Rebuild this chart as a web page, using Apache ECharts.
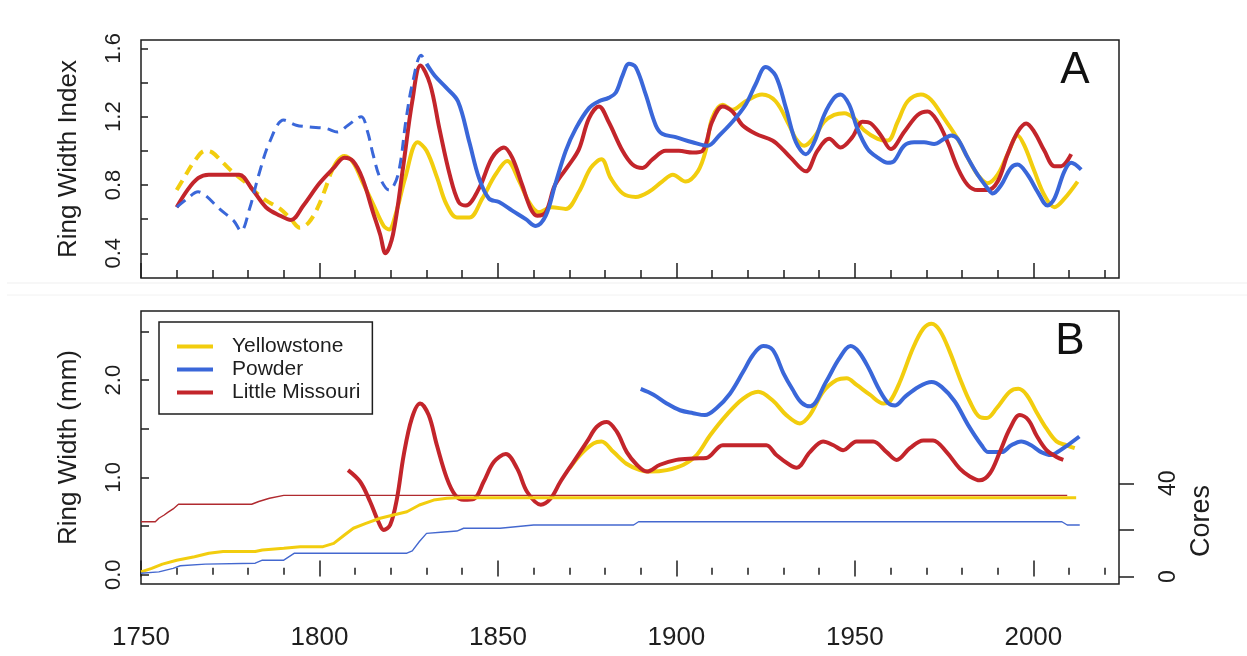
<!DOCTYPE html>
<html>
<head>
<meta charset="utf-8">
<title>Ring width chronologies</title>
<script src="https://cdn.jsdelivr.net/npm/echarts@6/dist/echarts.min.js"></script>
<style>
  html, body { margin: 0; padding: 0; background: #ffffff; }
  #chart { width: 1247px; height: 656px; }
</style>
</head>
<body>
<div id="chart"></div>
<script>
// ---- Panel A: standardized ring width index, [year, index] ----
const yellowstoneIndex = [
  [1760,0.77],[1762,0.84],[1765,0.94],[1768,1.0],[1770,0.99],[1773,0.93],[1776,0.87],[1779,0.82],
  [1782,0.76],[1785,0.71],[1789,0.66],[1792,0.6],[1794.5,0.55],[1797,0.58],[1800,0.69],[1803,0.86],
  [1805,0.94],[1807,0.97],[1809.5,0.93],[1812,0.82],[1815,0.69],[1818,0.56],[1819.5,0.54],[1821.5,0.64],
  [1824,0.84],[1827.5,1.05],[1830,1.0],[1833,0.84],[1835.5,0.69],[1838.5,0.61],[1842,0.61],[1845.6,0.72],
  [1849.3,0.86],[1852.6,0.94],[1856,0.82],[1858.7,0.70],[1861.5,0.64],[1865,0.67],[1869,0.66],[1872.7,0.76],
  [1876,0.90],[1879,0.95],[1881.6,0.84],[1885,0.75],[1888.6,0.73],[1892.3,0.76],[1896,0.82],[1899,0.86],
  [1902.6,0.82],[1906,0.88],[1908.2,1.0],[1910,1.19],[1913,1.27],[1915.7,1.24],[1919.4,1.29],[1924,1.33],
  [1927.8,1.29],[1931.6,1.15],[1933.5,1.07],[1935.8,1.03],[1938.6,1.08],[1941.4,1.17],[1944.2,1.21],[1947,1.22],
  [1949.8,1.19],[1952.6,1.12],[1956.4,1.07],[1959.2,1.06],[1962,1.17],[1964.8,1.29],[1968.5,1.33],[1971.3,1.30],
  [1975,1.19],[1978.8,1.07],[1981.6,0.96],[1984.4,0.86],[1987.2,0.81],[1990,0.86],[1992.8,0.98],[1995.6,1.09],
  [1997.5,1.03],[2000.3,0.88],[2003.1,0.74],[2005.9,0.67],[2008.7,0.72],[2012.4,0.82]
];
const powderIndex = [
  [1760,0.67],[1763,0.72],[1766,0.76],[1768,0.74],[1772,0.66],[1776,0.59],[1778,0.53],[1780.4,0.66],
  [1783,0.86],[1786,1.05],[1790,1.18],[1793.5,1.15],[1797,1.14],[1802,1.13],[1805,1.11],[1808,1.15],
  [1811.7,1.2],[1813.5,1.11],[1815,0.98],[1817,0.84],[1819.5,0.77],[1822,0.86],[1824.3,1.19],[1826,1.39],
  [1828.5,1.56],[1830,1.51],[1832.3,1.44],[1835.5,1.37],[1838.8,1.29],[1842,1.05],[1844.7,0.84],[1847.5,0.72],
  [1850.3,0.70],[1854,0.65],[1857.8,0.6],[1860.6,0.56],[1863.4,0.62],[1866,0.80],[1869,1.0],[1871.8,1.13],
  [1875.5,1.25],[1878.3,1.29],[1881,1.31],[1883,1.34],[1884.9,1.44],[1886.7,1.51],[1888.6,1.49],[1891.4,1.33],
  [1894.2,1.15],[1896,1.10],[1899.8,1.08],[1904.5,1.05],[1908.7,1.03],[1912,1.09],[1915.7,1.17],[1919.4,1.27],
  [1922.2,1.39],[1925,1.49],[1927.8,1.44],[1930.7,1.25],[1933.5,1.05],[1936.3,0.98],[1938.6,1.05],[1941.4,1.21],
  [1944.2,1.31],[1946,1.33],[1948.4,1.27],[1950.7,1.13],[1953.6,1.01],[1956.4,0.96],[1959.2,0.93],[1961,0.94],
  [1963.8,1.03],[1966.6,1.05],[1969.4,1.05],[1972.2,1.04],[1975,1.07],[1977,1.09],[1978.8,1.07],[1981.6,0.96],
  [1984.4,0.86],[1987.2,0.78],[1988.6,0.75],[1991,0.80],[1993.7,0.90],[1995.6,0.92],[1998.4,0.86],[2001.2,0.76],
  [2004,0.68],[2005.9,0.72],[2008.7,0.88],[2010.6,0.93],[2013.4,0.89]
];
const littleMissouriIndex = [
  [1760,0.67],[1763,0.77],[1766,0.84],[1769,0.86],[1773,0.86],[1777.5,0.86],[1781,0.78],[1785,0.67],
  [1789,0.62],[1792,0.595],[1795.5,0.68],[1800,0.81],[1804,0.9],[1807,0.96],[1809.4,0.94],[1812,0.84],
  [1815,0.64],[1817,0.51],[1818.5,0.40],[1820.6,0.51],[1823.4,0.9],[1826,1.29],[1828.3,1.5],[1831,1.39],
  [1833.6,1.13],[1836.5,0.86],[1839,0.70],[1841,0.68],[1844.7,0.78],[1848.4,0.96],[1851.7,1.02],[1854,0.96],
  [1856.8,0.80],[1859.2,0.66],[1861,0.62],[1863.4,0.64],[1866,0.8],[1870,0.92],[1872.7,1.01],[1875.5,1.19],
  [1878.3,1.26],[1881,1.17],[1884.9,1.0],[1887.7,0.92],[1890.5,0.90],[1893.3,0.95],[1897,1.0],[1900.7,1.0],
  [1904.5,0.99],[1907.3,1.0],[1910,1.17],[1912.9,1.26],[1915.7,1.23],[1918.5,1.15],[1922.2,1.10],[1926.9,1.06],
  [1929.7,1.01],[1932,0.96],[1936.3,0.88],[1939.5,1.0],[1942.8,1.07],[1946,1.02],[1949.3,1.08],[1952.1,1.17],
  [1954.5,1.16],[1957.3,1.09],[1960.1,1.01],[1963.8,1.11],[1967.6,1.21],[1970.4,1.23],[1973.2,1.17],[1976,1.05],
  [1978.8,0.90],[1981.6,0.80],[1984.4,0.77],[1987.2,0.77],[1990,0.82],[1992.8,0.98],[1995.6,1.11],[1998,1.16],
  [2000.3,1.11],[2003.1,1.0],[2005.9,0.91],[2007.8,0.91],[2010.6,0.98]
];
// years before which the index rests on few samples (drawn dashed)
const dashedUntil = { Yellowstone: 1803, Powder: 1830 };

// ---- Panel B: raw ring width (mm), [year, mm] ----
const yellowstoneWidth = [
  [1870,1.09],[1873,1.23],[1876.8,1.35],[1879,1.37],[1882.4,1.26],[1886,1.14],[1889.8,1.075],[1892.6,1.06],
  [1897.3,1.075],[1902,1.13],[1905.7,1.23],[1909.4,1.43],[1914,1.64],[1918.7,1.81],[1922.9,1.88],[1927,1.79],
  [1930.8,1.64],[1934.6,1.555],[1937.4,1.64],[1941.1,1.88],[1944.9,2.0],[1947.7,2.02],[1950.5,1.95],[1954.2,1.85],
  [1958,1.76],[1959.8,1.78],[1962.6,1.98],[1966.3,2.33],[1969.2,2.53],[1971.5,2.58],[1973.8,2.51],[1976.6,2.29],
  [1979.4,2.02],[1982.2,1.78],[1985,1.62],[1987,1.61],[1989.7,1.71],[1993.4,1.88],[1995.8,1.91],[1998.1,1.85],
  [2000.9,1.67],[2003.7,1.50],[2006.5,1.37],[2009.3,1.33],[2011.6,1.30]
];
const powderWidth = [
  [1890,1.91],[1893.6,1.85],[1897.3,1.76],[1901,1.69],[1904.7,1.66],[1908,1.64],[1911.2,1.71],[1915,1.86],
  [1918.7,2.085],[1921.5,2.26],[1924.3,2.35],[1927,2.31],[1930,2.07],[1932.6,1.9],[1935,1.77],[1937.5,1.73],
  [1941.9,1.98],[1945.6,2.22],[1948.8,2.35],[1951.1,2.29],[1953.9,2.12],[1956.7,1.91],[1959.4,1.76],[1961.3,1.74],
  [1964.1,1.83],[1967.8,1.93],[1971.5,1.98],[1974.3,1.93],[1978,1.78],[1981.7,1.54],[1985.5,1.33],[1987.4,1.26],
  [1991.1,1.26],[1993.8,1.33],[1996.6,1.37],[1999.4,1.33],[2002.2,1.26],[2005,1.23],[2006.8,1.26],[2009.6,1.33],
  [2012.9,1.42]
];
const littleMissouriWidth = [
  [1808,1.075],[1811.4,0.955],[1814.2,0.75],[1816.5,0.545],[1818,0.46],[1819.8,0.51],[1821.7,0.78],[1823.6,1.23],
  [1825.9,1.61],[1828.2,1.76],[1830.6,1.64],[1832.9,1.33],[1835.7,0.99],[1838,0.82],[1840.4,0.77],[1843.3,0.78],
  [1846,0.955],[1848.9,1.16],[1852.2,1.24],[1855.4,1.09],[1858.2,0.85],[1862,0.72],[1864.7,0.78],[1867.5,0.955],
  [1871.2,1.16],[1875,1.37],[1877.7,1.52],[1880.5,1.57],[1883.3,1.47],[1886.1,1.26],[1888.9,1.13],[1891.7,1.06],
  [1895.4,1.13],[1900,1.18],[1904.7,1.195],[1908.4,1.2],[1913,1.33],[1917.7,1.33],[1922.4,1.33],[1925.2,1.33],
  [1928,1.23],[1931.7,1.13],[1933.7,1.10],[1937.4,1.26],[1941.1,1.37],[1944,1.33],[1946.7,1.28],[1950.5,1.37],
  [1955.1,1.37],[1958.9,1.26],[1961.7,1.18],[1965.4,1.30],[1969.2,1.38],[1971.9,1.38],[1975.7,1.26],[1979.4,1.09],
  [1982.2,1.01],[1985,0.97],[1987.8,1.04],[1990.6,1.26],[1993.4,1.50],[1996.2,1.64],[1998.6,1.59],[2000.9,1.43],
  [2003.7,1.28],[2006.5,1.21],[2008.4,1.18]
];

// ---- Panel B: sample depth (number of cores), [year, cores] ----
const yellowstoneCores = [
  [1750,2],[1753,3.5],[1756,5.3],[1760,7],[1765,8.5],[1769,10],[1773,10.7],[1782,10.7],[1784,11.4],
  [1790,12.1],[1794.6,12.8],[1801,12.8],[1804,14.2],[1807,17.8],[1809.5,20.7],[1813,22.8],[1817,25],
  [1820.7,26.4],[1824.5,27.8],[1828,30.7],[1832,32.8],[1835.7,33.6],[1838.5,33.8],[2012,33.8]
];
const powderCores = [
  [1750,1.4],[1755,2],[1759,3.5],[1761,4.6],[1768,5.3],[1782,5.7],[1784,7],[1790,7],[1793,10],
  [1824.5,10],[1826,11],[1828,15],[1830,18.5],[1834,19],[1838.5,19.5],[1840.4,20.7],[1850.6,20.7],
  [1860,22.1],[1888,22.1],[1889.4,23.5],[2008,23.5],[2009.5,22.1],[2013,22.1]
];
const littleMissouriCores = [
  [1750,23.5],[1754,23.5],[1755,25],[1756.5,26.4],[1757.5,27.5],[1759,29],[1760.5,31],[1781,31],
  [1783,32.2],[1786,33.6],[1790,34.8],[2009.5,34.8]
];

// ---- axis ticks and labels ----
const decadeTicks = [1760,1770,1780,1790,1810,1820,1830,1840,1860,1870,1880,1890,1910,1920,1930,1940,1960,1970,1980,1990,2010,2020];
const yearLabels = [1750,1800,1850,1900,1950,2000];
const indexTicks = [0.4,0.6,0.8,1.0,1.2,1.4,1.6];
const indexLabels = [0.4,0.8,1.2,1.6];
const widthTicks = [0,0.5,1.0,1.5,2.0,2.5];
const widthLabels = [0,1.0,2.0];
const coreTicks = [0,20,40];
const coreLabels = [0,40];

const YELLOW = '#F2CD0E';
const BLUE = '#3A67D9';
const RED = '#C3252B';
const FONT = "'Liberation Sans', Arial, sans-serif";
const INK = '#1e1e1e';

const X_MIN = 1750, X_MAX = 2024;

function splitAt(points, year) {
  return [points.filter(p => p[0] <= year), points.filter(p => p[0] >= year)];
}

function line(name, data, xi, yi, color, width, opts) {
  opts = opts || {};
  return {
    name: name, type: 'line', xAxisIndex: xi, yAxisIndex: yi, data: data,
    showSymbol: false, symbol: 'none', silent: true, animation: false,
    smooth: opts.smooth === undefined ? 0.35 : opts.smooth,
    z: opts.z || 2,
    lineStyle: { color: color, width: width, type: opts.dash ? [11, 7] : 'solid', cap: 'butt', join: 'round' },
    itemStyle: { color: color }
  };
}

const [yEarly, yLate] = splitAt(yellowstoneIndex, dashedUntil.Yellowstone);
const [pEarly, pLate] = splitAt(powderIndex, dashedUntil.Powder);

const series = [
  // panel B curves (listed first so the legend takes their style)
  line('Yellowstone', yellowstoneWidth, 2, 1, YELLOW, 4, { z: 2 }),
  line('Powder', powderWidth, 2, 1, BLUE, 4, { z: 2 }),
  line('Little Missouri', littleMissouriWidth, 2, 1, RED, 4, { z: 2 }),
  // panel B sample depth
  line('Yellowstone', yellowstoneCores, 2, 2, YELLOW, 3, { smooth: false, z: 3 }),
  line('Powder', powderCores, 2, 2, '#4468CF', 1.4, { smooth: false, z: 3 }),
  line('Little Missouri', littleMissouriCores, 2, 2, '#B02A2F', 1.4, { smooth: false, z: 3 }),
  // panel A indices
  line('Yellowstone', yEarly, 0, 0, YELLOW, 4, { dash: true }),
  line('Yellowstone', yLate, 0, 0, YELLOW, 4),
  line('Little Missouri', littleMissouriIndex, 0, 0, RED, 4),
  line('Powder', pEarly, 0, 0, BLUE, 3, { dash: true }),
  line('Powder', pLate, 0, 0, BLUE, 4)
];

function xAxisDef(gridIndex, ticks, len, labels) {
  return {
    type: 'value', gridIndex: gridIndex, min: X_MIN, max: X_MAX, position: 'bottom',
    axisLine: { show: false }, splitLine: { show: false },
    axisTick: { show: true, inside: true, length: len, customValues: ticks, lineStyle: { color: INK, width: 1.5 } },
    axisLabel: labels ? {
      show: true, customValues: labels, margin: 41, fontSize: 26, fontFamily: FONT, color: INK,
      formatter: v => String(Math.round(v))
    } : { show: false }
  };
}

const chart = echarts.init(document.getElementById('chart'), null, { renderer: 'canvas' });

chart.setOption({
  animation: false,
  backgroundColor: '#ffffff',
  grid: [
    { left: 141, right: 128, top: 40, height: 238, show: true, borderColor: INK, borderWidth: 1.5, backgroundColor: 'transparent' },
    { left: 141, right: 128, top: 311, height: 273, show: true, borderColor: INK, borderWidth: 1.5, backgroundColor: 'transparent' }
  ],
  xAxis: [
    xAxisDef(0, decadeTicks, 8, null),
    xAxisDef(0, yearLabels, 15, null),
    xAxisDef(1, decadeTicks, 7, null),
    xAxisDef(1, yearLabels, 16, yearLabels)
  ],
  yAxis: [
    {
      type: 'value', gridIndex: 0, min: 0.2554, max: 1.6488,
      axisLine: { show: false }, splitLine: { show: false },
      axisTick: { show: true, inside: true, length: 7, customValues: indexTicks, lineStyle: { color: INK, width: 1.5 } },
      axisLabel: { customValues: indexLabels, rotate: 90, margin: 16, fontSize: 22, fontFamily: FONT, color: INK,
        formatter: v => v.toFixed(1) },
      name: 'Ring Width Index', nameLocation: 'middle', nameRotate: 90, nameGap: 59,
      nameTextStyle: { fontSize: 26, fontFamily: FONT, color: INK }
    },
    {
      type: 'value', gridIndex: 1, min: -0.0956, max: 2.71, position: 'left',
      axisLine: { show: false }, splitLine: { show: false },
      axisTick: { show: true, inside: true, length: 8, customValues: widthTicks, lineStyle: { color: INK, width: 1.5 } },
      axisLabel: { customValues: widthLabels, rotate: 90, margin: 16, fontSize: 22, fontFamily: FONT, color: INK,
        formatter: v => v.toFixed(1) },
      name: 'Ring Width (mm)', nameLocation: 'middle', nameRotate: 90, nameGap: 59,
      nameTextStyle: { fontSize: 26, fontFamily: FONT, color: INK }
    },
    {
      type: 'value', gridIndex: 1, min: -3.22, max: 113.95, position: 'right',
      axisLine: { show: false }, splitLine: { show: false },
      axisTick: { show: true, inside: false, length: 15, customValues: coreTicks, lineStyle: { color: INK, width: 1.5 } },
      axisLabel: { customValues: coreLabels, rotate: 90, margin: 38, fontSize: 23, fontFamily: FONT, color: INK }
    }
  ],
  legend: {
    data: [
      { name: 'Yellowstone', icon: 'rect', itemStyle: { color: YELLOW } },
      { name: 'Powder', icon: 'rect', itemStyle: { color: BLUE } },
      { name: 'Little Missouri', icon: 'rect', itemStyle: { color: RED } }
    ],
    orient: 'vertical', left: 159, top: 322,
    itemWidth: 36, itemHeight: 4, itemGap: 2,
    padding: [14, 12, 11, 18],
    borderColor: INK, borderWidth: 1.5, backgroundColor: '#ffffff',
    selectedMode: false,
    textStyle: { fontSize: 21, fontFamily: FONT, color: INK, padding: [0, 0, 0, 14] }
  },
  graphic: [
    { type: 'line', silent: true, z: -1, shape: { x1: 7, y1: 283, x2: 1247, y2: 283 }, style: { stroke: '#efefef', lineWidth: 1 } },
    { type: 'line', silent: true, z: -1, shape: { x1: 7, y1: 295, x2: 1247, y2: 295 }, style: { stroke: '#f2f2f2', lineWidth: 1 } },
    { type: 'text', silent: true, x: 1075, y: 71, style: { text: 'A', font: '44px ' + FONT, fill: '#111', align: 'center', verticalAlign: 'middle' } },
    { type: 'text', silent: true, x: 1070, y: 342, style: { text: 'B', font: '44px ' + FONT, fill: '#111', align: 'center', verticalAlign: 'middle' } },
    { type: 'text', silent: true, x: 1202, y: 521, rotation: Math.PI / 2,
      style: { text: 'Cores', font: '27px ' + FONT, fill: INK, align: 'center', verticalAlign: 'middle' } }
  ],
  series: series
});
</script>
</body>
</html>
